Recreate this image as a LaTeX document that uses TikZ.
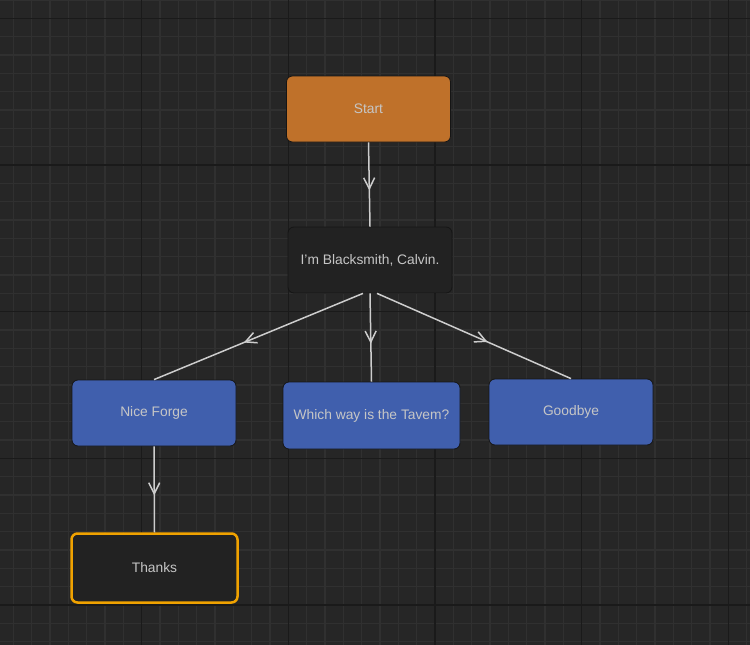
\documentclass[tikz,border=0pt]{standalone}
\usepackage{fontspec}
\setmainfont{Liberation Sans}
\usetikzlibrary{arrows.meta,decorations.markings}
\definecolor{bgc}{HTML}{262626}
\definecolor{minorc}{HTML}{303030}
\definecolor{majorc}{HTML}{1A1A1A}
\definecolor{txtc}{HTML}{C6C6C6}
\definecolor{linec}{HTML}{CDCDCD}
\definecolor{orgc}{HTML}{BF712A}
\definecolor{bluc}{HTML}{405FAD}
\definecolor{drkc}{HTML}{222222}
\definecolor{selc}{HTML}{F0A200}
\definecolor{shdc}{HTML}{151515}

\begin{document}
\begin{tikzpicture}[x=1pt, y=-1pt,
  box/.style={rectangle, rounded corners=6pt, minimum width=164pt, minimum height=66pt, inner sep=0pt,
    text=txtc, font=\fontsize{13.8}{16}\selectfont, draw=shdc, line width=0.8pt},
  startn/.style={box, fill=orgc},
  bluen/.style={box, fill=bluc},
  darkn/.style={box, fill=drkc},
  seln/.style={darkn, draw=selc, line width=2.5pt, minimum width=166pt, minimum height=69pt},
  flow/.style={draw=linec, line width=1.5pt, postaction={decorate},
    decoration={markings, mark=at position 0.57 with {\arrow{Straight Barb[length=11pt,width=11pt]}}}}]

\useasboundingbox (0,0) rectangle (750,645);
\fill[bgc] (0,0) rectangle (750,645);
\foreach \k in {0,...,41} \draw[minorc, line width=1.2pt] (-5+18.333*\k,0) -- (-5+18.333*\k,645);
\foreach \k in {0,...,35} \draw[minorc, line width=1.2pt] (0,18.333*\k) -- (750,18.333*\k);
\foreach \m in {0,...,5} \draw[majorc, line width=1.6pt] (-5+146.667*\m,0) -- (-5+146.667*\m,645);
\foreach \m in {0,...,4} \draw[majorc, line width=1.6pt] (0,18.333+146.667*\m) -- (750,18.333+146.667*\m);

\node[startn] (start) at (368.5,109) {Start};
\node[darkn] (black) at (370,260) {I'm Blacksmith, Calvin.};
\node[bluen] (nice) at (154,413) {Nice Forge};
\node[bluen, minimum width=177pt, minimum height=67pt] (which) at (371.5,415.5) {Which way is the Tavem?};
\node[bluen] (bye) at (571,412) {Goodbye};
\node[seln] (thanks) at (154.5,568) {Thanks};

\draw[flow] (start.south) -- (black.north);
\draw[flow] ([xshift=-7pt]black.south) -- (nice.north);
\draw[flow] (black.south) -- (which.north);
\draw[flow] ([xshift=7pt]black.south) -- (bye.north);
\draw[flow] (nice.south) -- (thanks.north);

\end{tikzpicture}
\end{document}
